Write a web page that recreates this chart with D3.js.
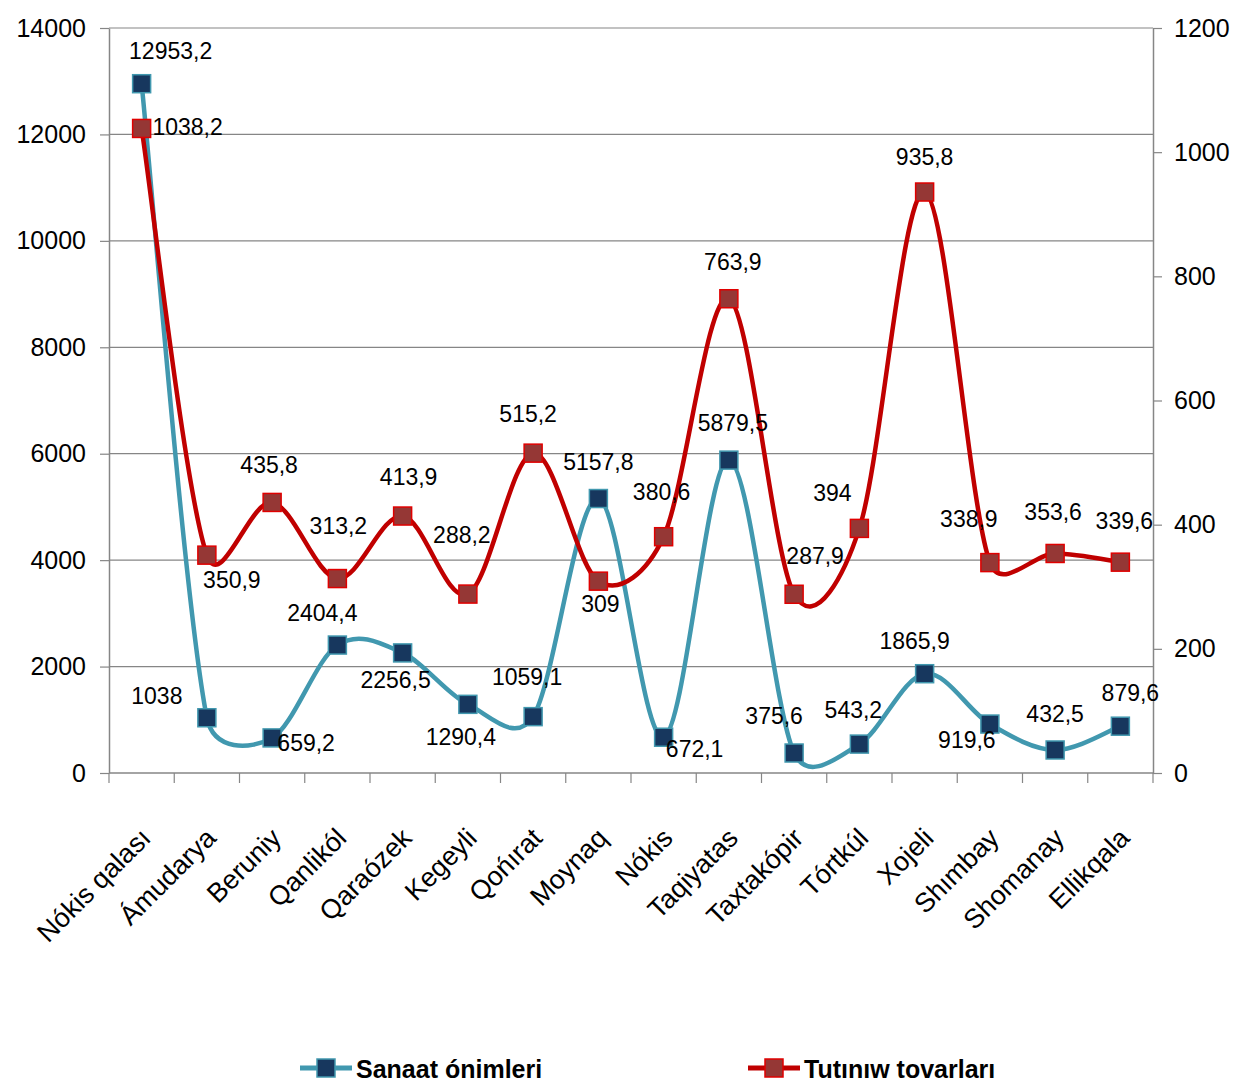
<!DOCTYPE html>
<html>
<head>
<meta charset="utf-8">
<script src="https://cdn.jsdelivr.net/npm/d3@7"></script>
<style>
  body { margin: 0; background: #fff; }
  svg text { font-family: "Liberation Sans", Arial, sans-serif; fill: #000; }
</style>
</head>
<body>
<div id="chart"></div>
<script>
const categories = ['Nókis qalası', 'Ámudarya', 'Beruniy', 'Qanlikól', 'Qaraózek', 'Kegeyli',
  'Qońırat', 'Moynaq', 'Nókis', 'Taqiyatas', 'Taxtakópir', 'Tórtkúl', 'Xojeli', 'Shımbay',
  'Shomanay', 'Ellikqala'];
const sanaat = [12953.2, 1038, 659.2, 2404.4, 2256.5, 1290.4, 1059.1, 5157.8, 672.1, 5879.5,
  375.6, 543.2, 1865.9, 919.6, 432.5, 879.6];
const tutiniw = [1038.2, 350.9, 435.8, 313.2, 413.9, 288.2, 515.2, 309, 380.6, 763.9,
  287.9, 394, 935.8, 338.9, 353.6, 339.6];
const leftTicks = [0, 2000, 4000, 6000, 8000, 10000, 12000, 14000];
const rightTicks = [0, 200, 400, 600, 800, 1000, 1200];
const seriesNames = ['Sanaat ónimleri', 'Tutınıw tovarları'];

// where each value label sits relative to its marker (label centre)
const sanaatOffsets = [[29, -33], [-50, -22], [34, 5], [-15, -32], [-7, 27], [-7, 33], [-6, -40],
  [0, -37], [31, 12], [4, -37], [-20, -37], [-6, -34], [-10, -33], [-23, 16], [0, -36], [10, -33]];
const tutiniwOffsets = [[46, -2], [25, 25], [-3, -37], [1, -53], [6, -39], [-6, -59], [-5, -39],
  [2, 23], [-2, -45], [4, -37], [21, -38], [-27, -35], [0, -35], [-21, -44], [-2, -42], [4, -41]];

const width = 1238, height = 1083;
const margin = { left: 109, right: 85, top: 28, bottom: 310 };

const svg = d3.select('#chart').append('svg')
  .attr('width', width)
  .attr('height', height);

const x = d3.scaleBand()
  .domain(categories)
  .range([margin.left, width - margin.right]);

const yL = d3.scaleLinear()
  .domain([0, 14000])
  .range([height - margin.bottom, margin.top]);

const yR = d3.scaleLinear()
  .domain([0, 1200])
  .range([height - margin.bottom, margin.top]);

const cx = d => x(d) + x.bandwidth() / 2;
const axisColor = '#868686';

// gridlines
svg.append('g')
  .selectAll('line')
  .data(leftTicks.slice(1))
  .enter()
  .append('line')
  .attr('x1', margin.left)
  .attr('x2', width - margin.right)
  .attr('y1', d => yL(d))
  .attr('y2', d => yL(d))
  .attr('stroke', axisColor)
  .attr('stroke-width', 1.2);

function styleAxis(g) {
  g.select('.domain').attr('stroke', axisColor).attr('stroke-width', 1.5);
  g.selectAll('.tick line').attr('stroke', axisColor).attr('stroke-width', 1.2);
  g.selectAll('.tick text').style('font-size', '25px');
}

svg.append('g')
  .attr('transform', `translate(${margin.left},0)`)
  .call(d3.axisLeft(yL).tickValues(leftTicks).tickSize(9).tickPadding(14).tickSizeOuter(0).tickFormat(d3.format('d')))
  .call(styleAxis);

svg.append('g')
  .attr('transform', `translate(${width - margin.right},0)`)
  .call(d3.axisRight(yR).tickValues(rightTicks).tickSize(9).tickPadding(12).tickSizeOuter(0).tickFormat(d3.format('d')))
  .call(styleAxis);

// x axis with ticks at band edges
const xAxis = svg.append('g')
  .attr('transform', `translate(0,${height - margin.bottom})`);
xAxis.append('line')
  .attr('x1', margin.left)
  .attr('x2', width - margin.right)
  .attr('stroke', axisColor)
  .attr('stroke-width', 1.5);
xAxis.selectAll('line.tk')
  .data(categories.concat(['__end']))
  .enter()
  .append('line')
  .attr('class', 'tk')
  .attr('x1', (d, i) => margin.left + i * x.bandwidth())
  .attr('x2', (d, i) => margin.left + i * x.bandwidth())
  .attr('y1', 0)
  .attr('y2', 10)
  .attr('stroke', axisColor)
  .attr('stroke-width', 1.2);
xAxis.selectAll('text')
  .data(categories)
  .enter()
  .append('text')
  .attr('transform', d => `translate(${cx(d) + 4},${60}) rotate(-45)`)
  .attr('text-anchor', 'end')
  .attr('dy', '0.35em')
  .style('font-size', '27px')
  .text(d => d);

// spreadsheet-style smoothing: bezier with tangents (p2-p0)/6, clamped to half the segment
function smoothPath(pts) {
  const p = d3.path();
  const dist = (a, b) => Math.hypot(a[0] - b[0], a[1] - b[1]);
  p.moveTo(pts[0][0], pts[0][1]);
  for (let i = 0; i < pts.length - 1; i++) {
    const p0 = pts[Math.max(i - 1, 0)], p1 = pts[i], p2 = pts[i + 1], p3 = pts[Math.min(i + 2, pts.length - 1)];
    const d12 = dist(p1, p2), d02 = dist(p0, p2), d13 = dist(p1, p3);
    const f1 = d02 > 0 ? Math.min(1 / 6, 0.5 * d12 / d02) : 0;
    const f2 = d13 > 0 ? Math.min(1 / 6, 0.5 * d12 / d13) : 0;
    p.bezierCurveTo(
      p1[0] + (p2[0] - p0[0]) * f1, p1[1] + (p2[1] - p0[1]) * f1,
      p2[0] - (p3[0] - p1[0]) * f2, p2[1] - (p3[1] - p1[1]) * f2,
      p2[0], p2[1]);
  }
  return p.toString();
}

function drawSeries(values, yScale, lineColor, markerFill, markerStroke) {
  const pts = values.map((v, i) => [cx(categories[i]), yScale(v)]);
  svg.append('path')
    .attr('d', smoothPath(pts))
    .attr('fill', 'none')
    .attr('stroke', lineColor)
    .attr('stroke-width', 4.5);
  svg.append('g')
    .selectAll('rect')
    .data(pts)
    .enter()
    .append('rect')
    .attr('x', d => d[0] - 9)
    .attr('y', d => d[1] - 9)
    .attr('width', 18)
    .attr('height', 18)
    .attr('fill', markerFill)
    .attr('stroke', markerStroke)
    .attr('stroke-width', 1.5);
  return pts;
}

function drawLabels(values, pts, offsets) {
  svg.append('g')
    .selectAll('text')
    .data(values)
    .enter()
    .append('text')
    .attr('x', (d, i) => pts[i][0] + offsets[i][0])
    .attr('y', (d, i) => pts[i][1] + offsets[i][1])
    .attr('text-anchor', 'middle')
    .attr('dy', '0.35em')
    .style('font-size', '23px')
    .text(d => String(d).replace('.', ','));
}

const sPts = drawSeries(sanaat, yL, '#4198AF', '#17375E', '#4198AF');
const tPts = drawSeries(tutiniw, yR, '#C00000', '#953735', '#E00000');
drawLabels(sanaat, sPts, sanaatOffsets);
drawLabels(tutiniw, tPts, tutiniwOffsets);

// legend
const legend = [
  { name: seriesNames[0], x: 300, line: '#4198AF', fill: '#17375E', stroke: '#4198AF' },
  { name: seriesNames[1], x: 748, line: '#C00000', fill: '#953735', stroke: '#E00000' }
];
const lg = svg.append('g')
  .selectAll('g')
  .data(legend)
  .enter()
  .append('g')
  .attr('transform', d => `translate(${d.x},1068)`);
lg.append('line')
  .attr('x1', 0).attr('x2', 52)
  .attr('stroke', d => d.line)
  .attr('stroke-width', 5);
lg.append('rect')
  .attr('x', 17).attr('y', -9)
  .attr('width', 18).attr('height', 18)
  .attr('fill', d => d.fill)
  .attr('stroke', d => d.stroke)
  .attr('stroke-width', 1.5);
lg.append('text')
  .attr('x', 56)
  .attr('dy', '0.38em')
  .style('font-size', '25px')
  .style('font-weight', 'bold')
  .text(d => d.name);
</script>
</body>
</html>
